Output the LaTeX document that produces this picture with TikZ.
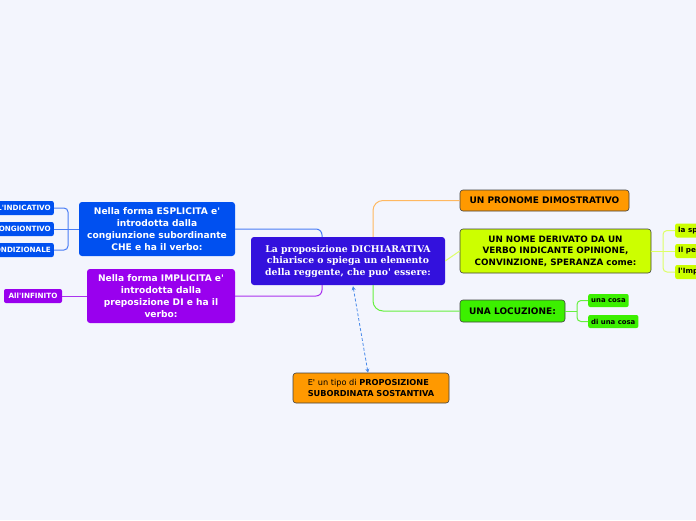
\documentclass[tikz,border=0pt]{standalone}
\usepackage{fontspec}
\setmainfont{DejaVu Sans}[Ligatures=TeXOff]
\newfontfamily\ctrfont{DejaVu Serif}[Ligatures=TeXOff]
\usetikzlibrary{arrows.meta}
\definecolor{bg}{HTML}{F3F5FD}
\definecolor{cblue}{HTML}{3311DD}
\definecolor{nblue}{HTML}{0050F0}
\definecolor{npurple}{HTML}{9900EE}
\definecolor{norange}{HTML}{FF9900}
\definecolor{nyellow}{HTML}{CCFF00}
\definecolor{ngreen}{HTML}{3CF000}
\definecolor{lblue}{HTML}{4A7DF5}
\definecolor{lpurple}{HTML}{AA33EE}
\definecolor{lorange}{HTML}{FFB860}
\definecolor{lyellow}{HTML}{DDFF66}
\definecolor{lgreen}{HTML}{66F040}
\definecolor{dashcol}{HTML}{4A8AEA}
\tikzset{
  box/.style={rounded corners=3pt, inner sep=0pt, align=center, font=\bfseries},
  darkbox/.style={box, text=white},
  litebox/.style={box, draw=black!75, line width=0.6pt, text=black},
  tag/.style={rounded corners=2pt, inner sep=0pt, minimum height=14pt, font=\bfseries\fontsize{7.2}{8}\selectfont},
  conn/.style={line width=1pt, rounded corners=6pt},
}
\begin{document}
\begin{tikzpicture}[x=1pt,y=-1pt]
\useasboundingbox (0,0) rectangle (696,520);
\clip (0,0) rectangle (696,520);
\fill[bg] (0,0) rectangle (696,520);

% central
\node[darkbox, fill=cblue, minimum width=194pt, minimum height=48pt,
  font=\ctrfont\bfseries\fontsize{9.3}{11.5}\selectfont] (ctr) at (348,261)
  {La proposizione DICHIARATIVA\\chiarisce o spiega un elemento\\della reggente, che puo' essere:};

% left branches
\node[darkbox, fill=nblue, minimum width=156pt, minimum height=54pt,
  font=\bfseries\fontsize{9.1}{12}\selectfont] (esp) at (157,229)
  {Nella forma ESPLICITA e'\\introdotta dalla\\congiunzione subordinante\\CHE e ha il verbo:};
\node[darkbox, fill=npurple, minimum width=148pt, minimum height=54pt,
  font=\bfseries\fontsize{9.1}{12}\selectfont] (imp) at (161,296)
  {Nella forma IMPLICITA e'\\introdotta dalla\\preposizione DI e ha il\\verbo:};

\node[tag, fill=nblue, text=white, anchor=east, inner xsep=3pt] (ind) at (54,208) {ALL'INDICATIVO};
\node[tag, fill=nblue, text=white, anchor=east, inner xsep=3pt] (con) at (54,229) {AL CONGIONTIVO};
\node[tag, fill=nblue, text=white, anchor=east, inner xsep=3pt] (cnd) at (54,250) {AL CONDIZIONALE};
\node[tag, fill=npurple, text=white, minimum width=58pt] (inf) at (33,296) {All'INFINITO};

% right branches
\node[litebox, fill=norange, minimum width=169pt, minimum height=21pt,
  font=\bfseries\fontsize{9}{10}\selectfont] (pro) at (544.5,200.5) {UN PRONOME DIMOSTRATIVO};
\node[litebox, fill=nyellow, minimum width=191pt, minimum height=44pt,
  font=\bfseries\fontsize{8.8}{11.5}\selectfont] (nom) at (555.5,251)
  {UN NOME DERIVATO DA UN\\VERBO INDICANTE OPINIONE,\\CONVINZIONE, SPERANZA come:};
\node[litebox, fill=ngreen, minimum width=105pt, minimum height=22pt,
  font=\bfseries\fontsize{9}{10}\selectfont] (loc) at (512.5,311) {UNA LOCUZIONE:};

\node[tag, fill=nyellow, text=black, anchor=west, inner xsep=3pt] (spe) at (675,230.5) {la speranza};
\node[tag, fill=nyellow, text=black, anchor=west, inner xsep=3pt] (pen) at (675,251) {Il pensiero};
\node[tag, fill=nyellow, text=black, anchor=west, inner xsep=3pt] (imr) at (675,272) {l'Impressione};

\node[tag, fill=ngreen, text=black, anchor=west, inner xsep=3pt, minimum height=13pt,
  font=\bfseries\fontsize{6.9}{8}\selectfont] (una) at (588,300.5) {una cosa};
\node[tag, fill=ngreen, text=black, anchor=west, inner xsep=3pt, minimum height=13pt,
  font=\bfseries\fontsize{6.9}{8}\selectfont] (dun) at (588,321.5) {di una cosa};

% bottom
\node[litebox, fill=norange, minimum width=156pt, minimum height=30pt, align=left,
  font=\fontsize{8.2}{10.5}\selectfont] (sos) at (371,388)
  {E' un tipo di \textbf{PROPOSIZIONE}\\\textbf{SUBORDINATA SOSTANTIVA}};

% connectors
\coordinate (lb) at (68,229);
\coordinate (rb) at (663,251);
\coordinate (gb) at (577,311);

\draw[conn, lblue] (esp.east) -| ([xshift=-26pt]ctr.north);
\draw[conn, lpurple] (imp.east) -| ([xshift=-26pt]ctr.south);
\draw[conn, lorange, rounded corners=10pt] (pro.west) -| ([xshift=25pt]ctr.north);
\draw[conn, lyellow] (ctr.east) -- (nom.west);
\draw[conn, lgreen, rounded corners=10pt] (loc.west) -| ([xshift=25pt]ctr.south);

\draw[conn, lblue, rounded corners=4pt] (esp.west) -- (lb);
\draw[conn, lblue, rounded corners=4pt] (lb) |- (ind.east);
\draw[conn, lblue, rounded corners=4pt] (lb) -- (con.east);
\draw[conn, lblue, rounded corners=4pt] (lb) |- (cnd.east);
\draw[conn, lpurple] (imp.west) -- (inf.east);

\draw[conn, lyellow, rounded corners=4pt] (nom.east) -- (rb);
\draw[conn, lyellow, rounded corners=4pt] (rb) |- (spe.west);
\draw[conn, lyellow, rounded corners=4pt] (rb) -- (pen.west);
\draw[conn, lyellow, rounded corners=4pt] (rb) |- (imr.west);

\draw[conn, lgreen, rounded corners=4pt] (loc.east) -- (gb);
\draw[conn, lgreen, rounded corners=4pt] (gb) |- (una.west);
\draw[conn, lgreen, rounded corners=4pt] (gb) |- (dun.west);

\draw[dashcol, line width=0.8pt, dash pattern=on 3pt off 2pt,
  {Stealth[length=4pt,width=4pt]}-{Stealth[length=4pt,width=4pt]}]
  ([xshift=5pt,yshift=-1pt]ctr.south) -- ([xshift=-3pt]sos.north);
\end{tikzpicture}
\end{document}
